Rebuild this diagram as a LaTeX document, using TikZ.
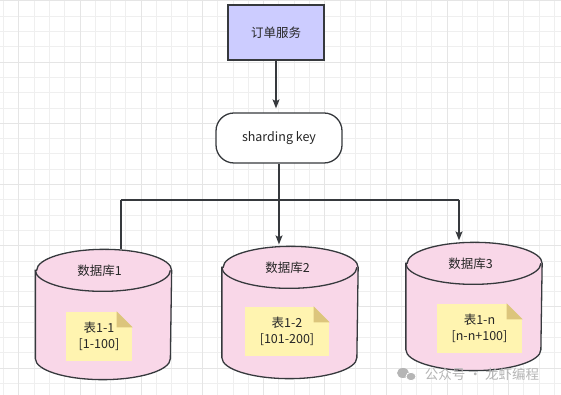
\documentclass[tikz,border=0pt]{standalone}
\usepackage{fontspec}
\setmainfont{Noto Sans CJK SC}
\usetikzlibrary{arrows.meta,calc}
\definecolor{gridminor}{HTML}{EFEFEF}
\definecolor{gridmajor}{HTML}{E5E5E5}
\definecolor{edge}{HTML}{36393D}
\definecolor{svcfill}{HTML}{CCCCFF}
\definecolor{dbfill}{HTML}{F9D7E8}
\definecolor{notefill}{HTML}{FFF4B0}
\definecolor{foldfill}{HTML}{DCC57C}
\definecolor{markgray}{HTML}{B5B5B5}
\begin{document}
\begin{tikzpicture}[x=1pt, y=1pt, font=\fontsize{12.5}{15}\selectfont, line width=1.3pt, >={Stealth[length=9pt,width=7pt,inset=2pt]},
  box/.style={draw=edge, text=black!85, inner sep=0pt},
  db/.style={minimum width=135pt, inner sep=0pt},
  note/.style={fill=notefill, text=black!85, minimum height=49pt, inner sep=0pt, align=center, font=\fontsize{12.5}{16}\selectfont},
  link/.style={draw=edge}]
\useasboundingbox (0,0) rectangle (561,395);
\fill[white] (0,0) rectangle (561,395);
% grid
\foreach \i in {0,...,36} \draw[gridminor, line width=1pt] ({3.5+15.3*\i},0) -- ++(0,395);
\foreach \j in {0,...,25} \draw[gridminor, line width=1pt] (0,{394-15.3*\j}) -- ++(561,0);
\foreach \i in {1,5,...,37} \draw[gridmajor, line width=1pt] ({3.5+15.3*\i},0) -- ++(0,395);
\foreach \j in {0,4,...,24} \draw[gridmajor, line width=1pt] (0,{394-15.3*\j}) -- ++(561,0);
% service and key
\node[box, fill=svcfill, minimum width=96pt, minimum height=55pt] (svc) at (276,362.5) {订单服务};
\node[box, fill=white, rounded corners=18pt, minimum width=126pt, minimum height=50pt] (key) at (279,257) {sharding key};
% databases
\node[db, minimum height=129pt] (db1) at (103.5,80.5) {};
\node[db, minimum height=131pt] (db2) at (290,82.5) {};
\node[db, minimum height=127pt] (db3) at (474,88.5) {};
\foreach \d in {db1,db2,db3} {
  \filldraw[fill=dbfill, draw=edge] ($(\d.north west)+(0,-21)$) -- ($(\d.south west)+(0,21)$) arc[start angle=180, end angle=360, x radius=67.5, y radius=21] -- ($(\d.north east)+(0,-21)$) arc[start angle=0, end angle=180, x radius=67.5, y radius=21] -- cycle;
  \draw[edge] ($(\d.north west)+(0,-21)$) arc[start angle=180, end angle=360, x radius=67.5, y radius=21];
}
\node[text=black!85] (db1name) at ($(db1.north)+(-4,-21)$) {数据库1};
\node[text=black!85] (db2name) at ($(db2.north)+(-2.5,-21)$) {数据库2};
\node[text=black!85] (db3name) at ($(db3.north)+(-3.5,-21)$) {数据库3};
% tables
\node[note, minimum width=66pt] (t1) at (99,58.5) {表1-1\\{[1-100]}};
\node[note, minimum width=84pt] (t2) at (287,63.5) {表1-2\\{[101-200]}};
\node[note, minimum width=85pt] (t3) at (479.5,66.5) {表1-n\\{[n-n+100]}};
\foreach \t in {t1,t2,t3} {
  \fill[dbfill] ($(\t.north east)+(-16,0)$) -- (\t.north east) -- ($(\t.north east)+(0,-16)$) -- cycle;
  \fill[foldfill] ($(\t.north east)+(-16,0)$) -- ($(\t.north east)+(-16,-16)$) -- ($(\t.north east)+(0,-16)$) -- cycle;
}
% connectors
\coordinate (busL) at (121,195);
\coordinate (busR) at (459,195);
\draw[link, ->, shorten >=4pt] (svc) -- (svc |- key.north);
\draw[link, ->, shorten >=2pt] (key.south) -- (key.south |- db2.north);
\draw[link] (busL) -- (busR);
\draw[link] (busL) -- (busL |- db1.north);
\draw[link, ->, shorten >=2pt] (busR) -- (busR |- db3.north);
% watermark
\fill[markgray] (403,22) ellipse (6 and 5);
\fill[markgray, draw=white, line width=0.8pt] (411,18.5) ellipse (5 and 4.2);
\node[text=markgray, font=\fontsize{13.5}{16}\selectfont] (mark) at (482,21) {公众号 · 龙虾编程};
\end{tikzpicture}
\end{document}
